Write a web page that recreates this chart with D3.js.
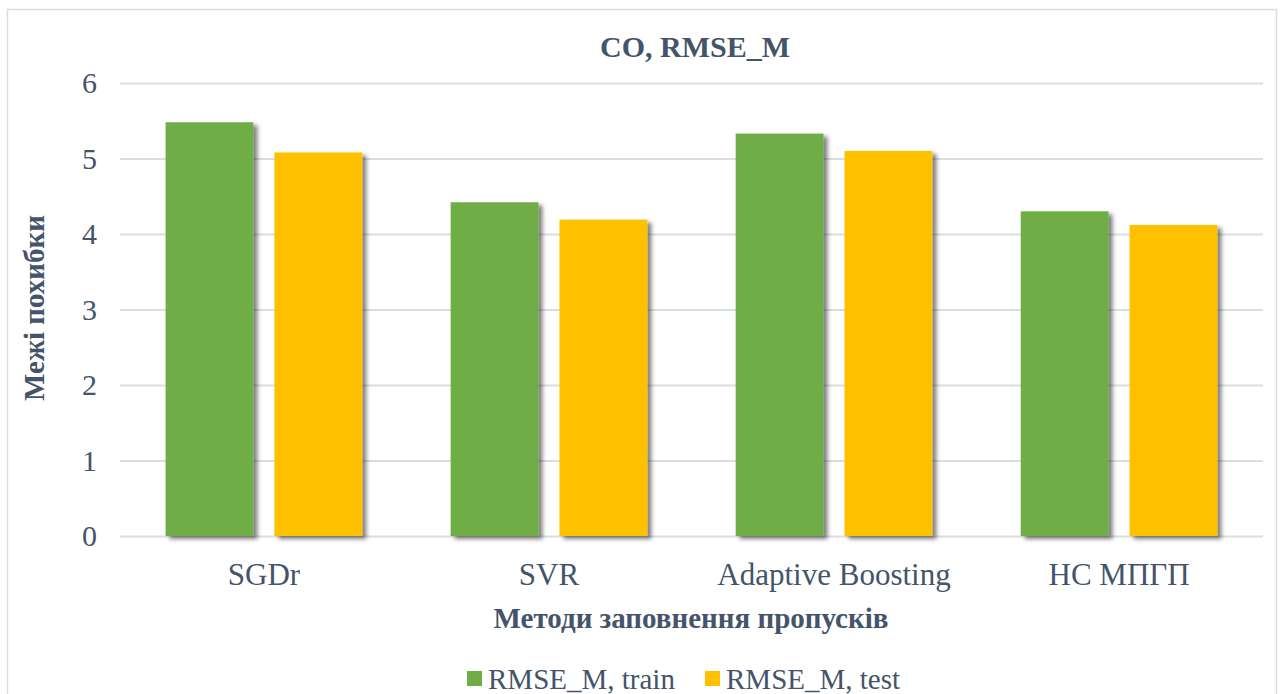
<!DOCTYPE html>
<html>
<head>
<meta charset="utf-8">
<script src="https://cdn.jsdelivr.net/npm/d3@7"></script>
<style>
  html, body { margin: 0; padding: 0; background: #fff; }
  svg { display: block; }
  svg text { font-family: "Liberation Serif", "Tinos", "Times New Roman", "Nimbus Roman", "DejaVu Serif", serif !important; fill: #44546A; }
</style>
</head>
<body>
<svg id="chart" width="1284" height="694"></svg>
<script>
// Methods for filling gaps and their RMSE_M errors
const categories = ["SGDr", "SVR", "Adaptive Boosting", "НС МПГП"];
const trainValues = [5.48, 4.42, 5.33, 4.30];
const testValues = [5.08, 4.19, 5.10, 4.12];
const seriesNames = ["RMSE_M, train", "RMSE_M, test"];
const seriesColors = ["#70AD47", "#FFC000"];
const yTicks = [0, 1, 2, 3, 4, 5, 6];

const series = [trainValues, testValues];
const FONT = "'Liberation Serif', Tinos, 'Times New Roman', 'DejaVu Serif', serif";

const plot = { left: 120, right: 1263, top: 83, bottom: 536 };

const svg = d3.select("#chart").attr("font-family", FONT);

// soft drop shadow under the bars
const defs = svg.append("defs");
const f = defs.append("filter").attr("id", "shadow")
  .attr("x", "-10%").attr("y", "-10%").attr("width", "130%").attr("height", "130%");
f.append("feDropShadow").attr("dx", 4).attr("dy", 3).attr("stdDeviation", 2.2)
  .attr("flood-color", "#000").attr("flood-opacity", 0.5);

// chart frame
svg.append("rect").attr("x", 7.5).attr("y", 9.5).attr("width", 1269).attr("height", 700)
  .attr("fill", "#fff").attr("stroke", "#D9DDE3").attr("stroke-width", 1.5);

const x0 = d3.scaleBand().domain(categories).range([plot.left, plot.right])
  .paddingInner(0.31).paddingOuter(0.16);
const x1 = d3.scaleBand().domain(d3.range(series.length)).range([0, x0.bandwidth()])
  .paddingInner(0.193);
const y = d3.scaleLinear().domain([0, 6]).range([plot.bottom, plot.top]);

// horizontal gridlines + tick labels
const yAxis = d3.axisLeft(y).tickValues(yTicks).tickSize(-(plot.right - plot.left)).tickPadding(23)
  .tickFormat(d3.format("d"));
const gy = svg.append("g").attr("transform", `translate(${plot.left},0)`).call(yAxis)
  .attr("font-family", FONT);
gy.select(".domain").remove();
gy.selectAll(".tick line").attr("stroke", "#D9DEE4").attr("stroke-width", 2);
gy.selectAll(".tick text").attr("font-size", 30).attr("fill", "#44546A");

// bars
const groups = svg.append("g").selectAll("g").data(categories).join("g")
  .attr("transform", d => `translate(${x0(d)},0)`);
groups.selectAll("rect")
  .data((c, i) => series.map((s, k) => ({ k, v: s[i] })))
  .join("rect")
  .attr("x", d => x1(d.k))
  .attr("y", d => y(d.v))
  .attr("width", x1.bandwidth())
  .attr("height", d => y(0) - y(d.v))
  .attr("fill", d => seriesColors[d.k])
  .attr("filter", "url(#shadow)");

// category labels
const xAxis = d3.axisBottom(x0).tickSize(0).tickPadding(27);
const gx = svg.append("g").attr("transform", `translate(0,${plot.bottom})`).call(xAxis)
  .attr("font-family", FONT);
gx.select(".domain").remove();
gx.selectAll(".tick text").attr("font-size", 31).attr("fill", "#44546A");

// title
svg.append("text").attr("x", 695).attr("y", 57)
  .attr("text-anchor", "middle").attr("font-size", 30).attr("font-weight", "bold")
  .text("CO, RMSE_M");

// axis titles
svg.append("text").attr("x", 691).attr("y", 628)
  .attr("text-anchor", "middle").attr("font-size", 29).attr("font-weight", "bold")
  .text("Методи заповнення пропусків");
svg.append("text").attr("transform", "translate(44,308) rotate(-90)")
  .attr("text-anchor", "middle").attr("font-size", 29).attr("font-weight", "bold")
  .text("Межі похибки");

// legend
const legend = svg.append("g");
const legendX = [467, 705];
seriesNames.forEach((name, i) => {
  const g = legend.append("g").attr("transform", `translate(${legendX[i]},0)`);
  g.append("rect").attr("x", 0).attr("y", 671).attr("width", 15).attr("height", 15)
    .attr("fill", seriesColors[i]);
  g.append("text").attr("x", 21).attr("y", 689).attr("font-size", 29).text(name);
});
</script>
</body>
</html>
